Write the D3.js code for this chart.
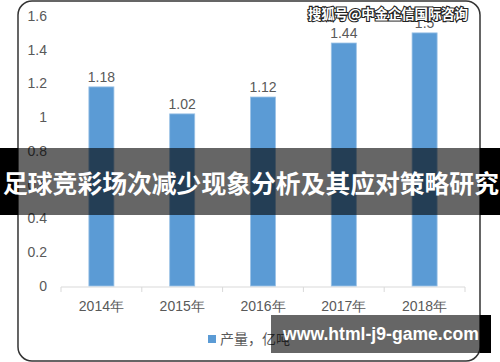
<html>
<head>
<meta charset="utf-8">
<script src="https://cdn.jsdelivr.net/npm/d3@7"></script>
<style>
  body { margin: 0; background: #fff; }
  svg { display: block; }
  .lbl { font-family: "Liberation Sans", Arial, sans-serif; fill: #595959; }
  .cjk { font-family: "Noto Sans CJK SC", sans-serif; }
</style>
</head>
<body>
<svg id="chart"></svg>
<script>
const WIDTH = 500
const HEIGHT = 362

// data
const years = ["2014年", "2015年", "2016年", "2017年", "2018年"]
const output = [1.18, 1.02, 1.12, 1.44, 1.5]
const yTicks = [0, 0.2, 0.4, 0.6, 0.8, 1, 1.2, 1.4, 1.6]
const seriesName = "产量，亿吨"
const title = "足球竞彩场次减少现象分析及其应对策略研究"
const watermark = "搜狐号@中金企信国际咨询"
const siteText = "www.html-j9-game.com"

const CARD = { left: 18, top: 1, right: 480, bottom: 361, r: 14 }

const svg = d3.select("#chart")
    .attr("width", WIDTH)
    .attr("height", HEIGHT)

// card
svg.append("rect")
    .attr("x", CARD.left).attr("y", CARD.top)
    .attr("width", CARD.right - CARD.left)
    .attr("height", CARD.bottom - CARD.top)
    .attr("rx", CARD.r)
    .attr("fill", "#fff")
    .attr("stroke", "#333")
    .attr("stroke-width", 1.5)

const xScale = d3.scaleBand()
    .domain(years)
    .range([61, 465])
    .padding(0)
const yScale = d3.scaleLinear()
    .domain([0, 1.6])
    .range([286, 16])

const barW = xScale.bandwidth() * 0.31

// axis line + boundary ticks
const base = yScale(0) + 1
svg.append("line")
    .attr("x1", xScale.range()[0]).attr("x2", xScale.range()[1])
    .attr("y1", base).attr("y2", base)
    .attr("stroke", "#d9d9d9").attr("stroke-width", 1)
const bounds = years.map(d => xScale(d)).concat([xScale.range()[1]])
svg.selectAll(".btick").data(bounds).enter().append("line")
    .attr("x1", d => d).attr("x2", d => d)
    .attr("y1", base).attr("y2", base + 5)
    .attr("stroke", "#d9d9d9")

// bars
svg.selectAll(".bar").data(output).enter().append("rect")
    .attr("x", (d, i) => xScale(years[i]) + xScale.bandwidth() / 2 - barW / 2)
    .attr("y", d => yScale(d))
    .attr("width", barW)
    .attr("height", d => yScale(0) - yScale(d))
    .attr("fill", "#5b9bd5")
    .attr("stroke", "#9dc3e6")
    .attr("stroke-width", 0.8)

// value labels
svg.selectAll(".val").data(output).enter().append("text")
    .attr("class", "lbl")
    .attr("x", (d, i) => xScale(years[i]) + xScale.bandwidth() / 2)
    .attr("y", d => yScale(d) - 5)
    .attr("text-anchor", "middle")
    .attr("font-size", 14)
    .text(d => d)

// y labels
let yAxis = d3.axisLeft(yScale)
    .tickValues(yTicks)
    .tickSize(0)
    .tickFormat(d => String(+d.toFixed(1)))
const yg = svg.append("g")
    .attr("transform", "translate(47,0)")
    .call(yAxis)
yg.select(".domain").remove()
yg.selectAll("text")
    .attr("class", "lbl")
    .attr("x", 0)
    .attr("font-size", 14)
    .attr("fill", "#595959")

// x labels
svg.selectAll(".xl").data(years).enter().append("text")
    .attr("class", "lbl")
    .attr("x", d => xScale(d) + xScale.bandwidth() / 2)
    .attr("y", 306)
    .attr("dy", "0.35em")
    .attr("text-anchor", "middle")
    .attr("font-size", 14)
    .text(d => d)

// legend
svg.append("rect")
    .attr("x", 208).attr("y", 335)
    .attr("width", 8).attr("height", 8)
    .attr("fill", "#5b9bd5")
svg.append("text")
    .attr("class", "lbl cjk")
    .attr("x", 220).attr("y", 339)
    .attr("dy", "0.35em")
    .attr("font-size", 14)
    .text(seriesName)

// watermark
svg.append("text")
    .attr("class", "cjk")
    .attr("x", 308).attr("y", 14)
    .attr("dy", "0.35em")
    .attr("font-size", 13.5)
    .attr("font-weight", "bold")
    .attr("textLength", 160)
    .attr("fill", "#fff")
    .attr("stroke", "#222")
    .attr("stroke-width", 2.2)
    .attr("paint-order", "stroke")
    .text(watermark)

// banner across the middle
const BAN = { y: 148, h: 67 }
svg.append("rect")
    .attr("x", CARD.left).attr("y", BAN.y)
    .attr("width", CARD.right - CARD.left).attr("height", BAN.h)
    .attr("fill", "rgba(0,0,0,0.6)")
svg.append("rect")
    .attr("x", 0).attr("y", BAN.y)
    .attr("width", CARD.left).attr("height", BAN.h)
    .attr("fill", "#000")
svg.append("rect")
    .attr("x", CARD.right).attr("y", BAN.y)
    .attr("width", WIDTH - CARD.right).attr("height", BAN.h)
    .attr("fill", "#000")
svg.append("text")
    .attr("class", "cjk")
    .attr("x", 251).attr("y", 184)
    .attr("dy", "0.36em")
    .attr("text-anchor", "middle")
    .attr("font-size", 24.8)
    .attr("font-weight", "bold")
    .attr("fill", "#fff")
    .text(title)

// site box bottom right
const BOX = { x: 271, y: 315, w: 220, h: 38 }
svg.append("rect")
    .attr("x", BOX.x).attr("y", BOX.y)
    .attr("width", CARD.right - BOX.x).attr("height", BOX.h)
    .attr("fill", "rgba(0,0,0,0.6)")
svg.append("rect")
    .attr("x", CARD.right).attr("y", BOX.y)
    .attr("width", BOX.x + BOX.w - CARD.right).attr("height", BOX.h)
    .attr("fill", "#000")
svg.append("text")
    .attr("x", 381).attr("y", 334)
    .attr("dy", "0.35em")
    .attr("text-anchor", "middle")
    .attr("font-family", "'Liberation Sans', Arial, sans-serif")
    .attr("font-size", 17.6)
    .attr("font-weight", "bold")
    .attr("fill", "#fff")
    .text(siteText)
</script>
</body>
</html>
